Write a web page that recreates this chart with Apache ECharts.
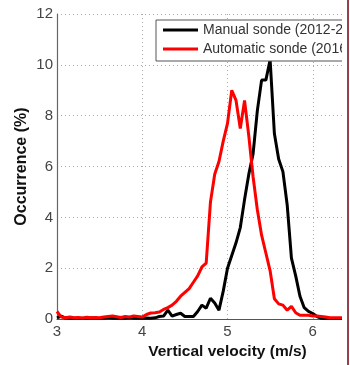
<!DOCTYPE html>
<html>
<head>
<meta charset="utf-8">
<script src="https://cdn.jsdelivr.net/npm/echarts@6/dist/echarts.min.js"></script>
<style>
  html, body { margin: 0; padding: 0; background: #fff; }
  #frame { position: absolute; left: 0; top: 0; width: 342px; height: 365px; overflow: hidden; background: #fff; }
  #chart { position: absolute; left: 0; top: 0; width: 420px; height: 365px; }
  #edge { position: absolute; left: 347px; top: 0; width: 2px; height: 365px; background: #96404c; }
</style>
</head>
<body>
<div id="frame"><div id="chart"></div></div>
<div id="edge"></div>
<script>
// Vertical velocity bins (m/s)
const velocity = [
  3.00, 3.05, 3.10, 3.15, 3.20, 3.25, 3.30, 3.35, 3.40, 3.45,
  3.50, 3.55, 3.60, 3.65, 3.70, 3.75, 3.80, 3.85, 3.90, 3.95,
  4.00, 4.05, 4.10, 4.15, 4.20, 4.25, 4.30, 4.35, 4.40, 4.45,
  4.50, 4.55, 4.60, 4.65, 4.70, 4.75, 4.80, 4.85, 4.90, 4.95,
  5.00, 5.05, 5.10, 5.15, 5.20, 5.25, 5.30, 5.35, 5.40, 5.45,
  5.50, 5.55, 5.60, 5.65, 5.70, 5.75, 5.80, 5.85, 5.90, 5.95,
  6.00, 6.05, 6.10, 6.15, 6.20, 6.25, 6.30, 6.35
];

// Occurrence (%) for the manual sonde
const manualOccurrence = [
  0.05, 0.12, 0.04, 0.02, 0.03, 0.02, 0.03, 0.02, 0.04, 0.03,
  0.02, 0.03, 0.05, 0.03, 0.04, 0.02, 0.03, 0.05, 0.03, 0.04,
  0.03, 0.04, 0.03, 0.05, 0.10, 0.12, 0.35, 0.12, 0.18, 0.23,
  0.10, 0.10, 0.10, 0.30, 0.55, 0.43, 0.82, 0.63, 0.35, 1.10,
  2.00, 2.50, 3.00, 3.60, 4.70, 5.70, 6.50, 8.20, 9.40, 9.40,
  10.20, 7.30, 6.30, 5.80, 4.50, 2.40, 1.70, 0.90, 0.45, 0.30,
  0.22, 0.10, 0.03, 0.02, 0.02, 0.02, 0.02, 0.02
];

// Occurrence (%) for the automatic sonde
const automaticOccurrence = [
  0.30, 0.08, 0.05, 0.08, 0.05, 0.06, 0.04, 0.07, 0.05, 0.06,
  0.05, 0.08, 0.10, 0.12, 0.09, 0.06, 0.10, 0.08, 0.12, 0.10,
  0.08, 0.18, 0.24, 0.25, 0.28, 0.38, 0.45, 0.55, 0.70, 0.90,
  1.05, 1.20, 1.45, 1.70, 2.05, 2.20, 4.60, 5.70, 6.20, 7.00,
  7.70, 9.00, 8.60, 7.50, 8.60, 7.20, 5.60, 4.30, 3.30, 2.60,
  1.90, 0.80, 0.60, 0.55, 0.35, 0.50, 0.25, 0.15, 0.15, 0.15,
  0.12, 0.12, 0.10, 0.08, 0.05, 0.05, 0.05, 0.05
];

const seriesNames = ['Manual sonde (2012-2015)', 'Automatic sonde (2016-2018)'];
const yTicks = [0, 2, 4, 6, 8, 10, 12];

const pair = (ys) => velocity.map((v, i) => [v, ys[i]]);
const font = 'Liberation Sans, Arial, Helvetica, sans-serif';

const chart = echarts.init(document.getElementById('chart'), null, { renderer: 'canvas' });
chart.setOption({
  animation: false,
  backgroundColor: '#fff',
  grid: { left: 57, right: 22, top: 14, bottom: 44, containLabel: false },
  legend: {
    left: 156, top: 20, orient: 'vertical',
    backgroundColor: '#fff', borderColor: '#555', borderWidth: 1,
    padding: [3, 60, 5, 7], itemGap: 5,
    itemWidth: 35, itemHeight: 3, icon: 'rect',
    textStyle: { fontFamily: font, fontSize: 14, color: '#333', lineHeight: 14 },
    data: seriesNames
  },
  xAxis: {
    type: 'value', min: 3, max: 7, interval: 1,
    name: 'Vertical velocity (m/s)', nameLocation: 'middle', nameGap: 23,
    nameTextStyle: { fontFamily: font, fontSize: 15.5, fontWeight: 'bold', color: '#111' },
    axisLine: { lineStyle: { color: '#555', width: 1.2 } },
    axisTick: { show: false },
    axisLabel: { fontFamily: font, fontSize: 15, color: '#444', margin: 5 },
    splitLine: { show: true, lineStyle: { color: '#aaa', type: [1, 3], width: 1 } }
  },
  yAxis: {
    type: 'value', min: yTicks[0], max: yTicks[yTicks.length - 1], interval: 2,
    name: 'Occurrence (%)', nameLocation: 'middle', nameGap: 27, nameMoveOverlap: false,
    nameTextStyle: { fontFamily: font, fontSize: 16, fontWeight: 'bold', color: '#111' },
    axisLine: { show: true, lineStyle: { color: '#666', width: 1.2 } },
    axisTick: { show: false },
    axisLabel: { fontFamily: font, fontSize: 15, color: '#444', margin: 4 },
    splitLine: { show: true, lineStyle: { color: '#aaa', type: [1, 3], width: 1 } }
  },
  series: [
    {
      name: seriesNames[0], type: 'line', data: pair(manualOccurrence),
      symbol: 'none', color: '#000', lineStyle: { width: 3, color: '#000' }, z: 2
    },
    {
      name: seriesNames[1], type: 'line', data: pair(automaticOccurrence),
      symbol: 'none', color: '#ff0000', lineStyle: { width: 3, color: '#ff0000' }, z: 3
    }
  ]
});
</script>
</body>
</html>
